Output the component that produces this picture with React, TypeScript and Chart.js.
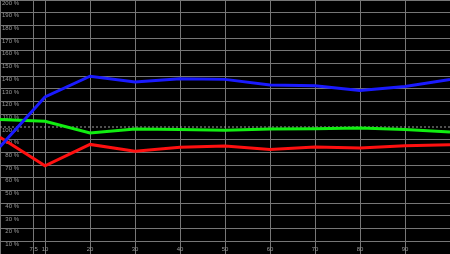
import React, { useEffect, useRef } from "react";
import { Chart, registerables } from "chart.js";

Chart.register(...registerables);

const xValues = [0, 10, 20, 30, 40, 50, 60, 70, 80, 90, 100];
const blueValues = [84.5, 123.7, 140, 135.5, 138, 137.5, 133, 132.5, 128.7, 131.9, 137.4];
const greenValues = [106, 104.5, 95.3, 98.5, 98, 97.5, 98.5, 98.7, 99.2, 98, 96.1];
const redValues = [92, 69.5, 86.3, 81, 84, 85, 82.2, 84.2, 83.5, 85.3, 86.1];
const referenceValue = 100;
const xTickValues = [0, 7.5, 10, 20, 30, 40, 50, 60, 70, 80, 90, 100];
const xTickLabels = ["", "7.5", "10", "20", "30", "40", "50", "60", "70", "80", "90", ""];

const toPoints = (ys: number[]) => xValues.map((x, i) => ({ x, y: ys[i] }));

// Places the (zero-size) axis boxes so their labels sit inside the plot, as in the reference.
const overlayAxesPlugin = {
  id: "overlayAxes",
  afterLayout(chart: any) {
    const y = chart.scales.y;
    y.left = 0;
    y.right = 19;
    const x = chart.scales.x;
    x.top = 246;
    x.bottom = 254;
  },
};

export default function App() {
  const ref = useRef<HTMLCanvasElement | null>(null);
  useEffect(() => {
    document.body.style.margin = "0";
    document.body.style.background = "#000";
    const canvas = ref.current;
    if (!canvas) return;
    const gridColor = "#767676";
    const textColor = "#9a9a9a";
    const font = { family: "'Liberation Sans', Arial, sans-serif", size: 6 };
    const chart = new Chart(canvas, {
      type: "line",
      data: {
        datasets: [
          {
            data: toPoints(blueValues),
            borderColor: "#1a1aff",
            borderWidth: 3,
            pointRadius: 0,
            tension: 0,
            order: 1,
          },
          {
            data: toPoints(greenValues),
            borderColor: "#11ee11",
            borderWidth: 3,
            pointRadius: 0,
            tension: 0,
            order: 1,
          },
          {
            data: toPoints(redValues),
            borderColor: "#ff1010",
            borderWidth: 3,
            pointRadius: 0,
            tension: 0,
            order: 1,
          },
          {
            data: [
              { x: xValues[0], y: referenceValue },
              { x: xValues[xValues.length - 1], y: referenceValue },
            ],
            borderColor: "#a0a0a0",
            borderWidth: 1,
            borderDash: [2, 2],
            pointRadius: 0,
            order: 10,
          },
        ],
      },
      options: {
        responsive: false,
        animation: false,
        maintainAspectRatio: false,
        layout: { padding: 0 },
        plugins: { legend: { display: false }, tooltip: { enabled: false } },
        scales: {
          x: {
            type: "linear",
            position: "bottom",
            min: 0,
            max: 100,
            border: { display: false },
            grid: { color: gridColor, lineWidth: 1, drawTicks: false },
            afterBuildTicks: (scale: any) => {
              scale.ticks = xTickValues.map((v) => ({ value: v }));
            },
            afterFit: (scale: any) => {
              scale.height = 0;
              scale.paddingLeft = 0;
              scale.paddingRight = 0;
              scale.paddingTop = 0;
              scale.paddingBottom = 0;
            },
            ticks: {
              autoSkip: false,
              maxRotation: 0,
              minRotation: 0,
              padding: 0,
              color: textColor,
              font,
              callback: (v: any) => {
                const i = xTickValues.indexOf(Number(v));
                return i >= 0 ? xTickLabels[i] : "";
              },
            },
          },
          y: {
            type: "linear",
            position: "left",
            min: 0,
            max: 200,
            border: { display: false },
            grid: {
              color: (ctx: any) => (ctx.tick && ctx.tick.value === referenceValue ? "rgba(0,0,0,0)" : gridColor),
              lineWidth: 1,
              drawTicks: false,
            },
            afterFit: (scale: any) => {
              scale.width = 0;
              scale.paddingLeft = 0;
              scale.paddingRight = 0;
              scale.paddingTop = 0;
              scale.paddingBottom = 0;
            },
            ticks: {
              stepSize: 10,
              padding: 0,
              crossAlign: "near",
              labelOffset: 3,
              color: textColor,
              font,
              callback: (v: any) => (Number(v) === 0 ? "" : v + " %"),
            },
          },
        },
      },
      plugins: [overlayAxesPlugin],
    });
    return () => chart.destroy();
  }, []);
  return (
    <div style={{ width: 450, height: 254, background: "#000" }}>
      <canvas ref={ref} width={450} height={254} style={{ display: "block", background: "#000" }} />
    </div>
  );
}
